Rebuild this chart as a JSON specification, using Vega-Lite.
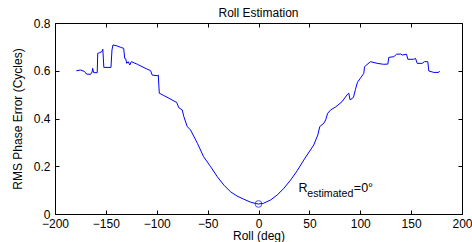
{
  "$schema": "https://vega.github.io/schema/vega-lite/v6.json",
  "autosize": {"type": "none"},
  "width": 407,
  "height": 191,
  "padding": {"left": 55, "top": 23, "right": 10, "bottom": 28},
  "background": "white",
  "title": {"text": "Roll Estimation", "font": "Liberation Sans", "fontSize": 12, "fontWeight": "normal", "color": "black", "baseline": "alphabetic", "offset": 6, "dy": 18, "anchor": "middle"},
  "config": {
    "view": {"stroke": "black", "strokeWidth": 1},
    "axis": {
      "grid": false, "domainColor": "black", "tickColor": "black", "labelColor": "black", "titleColor": "black",
      "labelFont": "Liberation Sans", "titleFont": "Liberation Sans", "labelFontSize": 12, "titleFontSize": 12,
      "titleFontWeight": "normal", "tickSize": -4, "labelFlush": false, "labelOverlap": false
    }
  },
  "datasets": {
    "curve": [
      {"roll": -179, "err": 0.600}, {"roll": -175, "err": 0.603}, {"roll": -171, "err": 0.597},
      {"roll": -169, "err": 0.586}, {"roll": -165, "err": 0.585}, {"roll": -163.5, "err": 0.595},
      {"roll": -163, "err": 0.610}, {"roll": -162, "err": 0.592}, {"roll": -158.5, "err": 0.592},
      {"roll": -158, "err": 0.673}, {"roll": -156, "err": 0.676}, {"roll": -154, "err": 0.680},
      {"roll": -153, "err": 0.690}, {"roll": -152, "err": 0.614}, {"roll": -145, "err": 0.614},
      {"roll": -144, "err": 0.687}, {"roll": -143, "err": 0.708}, {"roll": -139, "err": 0.704},
      {"roll": -135.5, "err": 0.698}, {"roll": -132.5, "err": 0.694}, {"roll": -131.5, "err": 0.652},
      {"roll": -130.5, "err": 0.650}, {"roll": -129.5, "err": 0.631}, {"roll": -128, "err": 0.638},
      {"roll": -126.5, "err": 0.624}, {"roll": -125, "err": 0.638}, {"roll": -119, "err": 0.627},
      {"roll": -112.5, "err": 0.613}, {"roll": -106, "err": 0.600}, {"roll": -104.5, "err": 0.582},
      {"roll": -99.5, "err": 0.579}, {"roll": -98.5, "err": 0.582}, {"roll": -97.5, "err": 0.506},
      {"roll": -93, "err": 0.496}, {"roll": -88, "err": 0.485}, {"roll": -83, "err": 0.473},
      {"roll": -80.5, "err": 0.468}, {"roll": -78.3, "err": 0.445}, {"roll": -75, "err": 0.436},
      {"roll": -73.4, "err": 0.408}, {"roll": -70, "err": 0.366}, {"roll": -66.8, "err": 0.352},
      {"roll": -60, "err": 0.296}, {"roll": -54, "err": 0.240}, {"roll": -47, "err": 0.198},
      {"roll": -40.5, "err": 0.156}, {"roll": -34, "err": 0.121}, {"roll": -27.5, "err": 0.093},
      {"roll": -21, "err": 0.075}, {"roll": -14.5, "err": 0.062}, {"roll": -8, "err": 0.050},
      {"roll": -3, "err": 0.044}, {"roll": 0, "err": 0.042}, {"roll": 5, "err": 0.045},
      {"roll": 12, "err": 0.059}, {"roll": 18.5, "err": 0.080}, {"roll": 25, "err": 0.108},
      {"roll": 31.5, "err": 0.142}, {"roll": 38, "err": 0.181}, {"roll": 44.5, "err": 0.226},
      {"roll": 51, "err": 0.268}, {"roll": 54.3, "err": 0.289}, {"roll": 58.3, "err": 0.331},
      {"roll": 60.2, "err": 0.366}, {"roll": 64.2, "err": 0.380}, {"roll": 66, "err": 0.394},
      {"roll": 68, "err": 0.422}, {"roll": 71, "err": 0.436}, {"roll": 76, "err": 0.449},
      {"roll": 82, "err": 0.470}, {"roll": 87.2, "err": 0.500}, {"roll": 88.7, "err": 0.506},
      {"roll": 90, "err": 0.478}, {"roll": 93.3, "err": 0.488}, {"roll": 95.3, "err": 0.522},
      {"roll": 97.3, "err": 0.552}, {"roll": 100, "err": 0.568}, {"roll": 103.5, "err": 0.589},
      {"roll": 104.2, "err": 0.617}, {"roll": 110, "err": 0.638}, {"roll": 116.7, "err": 0.631},
      {"roll": 123, "err": 0.627}, {"roll": 127.1, "err": 0.628}, {"roll": 128.1, "err": 0.656},
      {"roll": 133, "err": 0.659}, {"roll": 135.6, "err": 0.669}, {"roll": 139.6, "err": 0.670},
      {"roll": 141.2, "err": 0.666}, {"roll": 145.5, "err": 0.669}, {"roll": 146.8, "err": 0.648},
      {"roll": 152.6, "err": 0.648}, {"roll": 154.3, "err": 0.652}, {"roll": 156, "err": 0.631},
      {"roll": 160.9, "err": 0.631}, {"roll": 163.1, "err": 0.638}, {"roll": 166.4, "err": 0.638},
      {"roll": 167.4, "err": 0.599}, {"roll": 172.3, "err": 0.593}, {"roll": 177, "err": 0.593},
      {"roll": 178, "err": 0.599}
    ],
    "marker": [{"roll": 0, "err": 0.042}],
    "labelMain": [{"roll": 39.3, "err": 0.092, "txt": "R"}, {"roll": 93.7, "err": 0.092, "txt": "=0°"}],
    "labelSub": [{"roll": 48, "err": 0.092, "txt": "estimated"}]
  },
  "layer": [
    {
      "data": {"name": "curve"},
      "mark": {"type": "line", "color": "#0000FF", "strokeWidth": 1, "interpolate": "linear"},
      "encoding": {
        "x": {"field": "roll", "type": "quantitative", "scale": {"domain": [-200, 200], "nice": false, "zero": false},
              "axis": {"orient": "bottom", "values": [-200, -150, -100, -50, 0, 50, 100, 150, 200], "title": "Roll (deg)", "labelPadding": 8, "titleY": 25, "titleBaseline": "alphabetic", "titlePadding": 0}},
        "y": {"field": "err", "type": "quantitative", "scale": {"domain": [0, 0.8], "nice": false},
              "axis": {"orient": "left", "values": [0, 0.2, 0.4, 0.6, 0.8], "format": "~g", "title": "RMS Phase Error (Cycles)", "labelPadding": 9, "titleX": -34, "titleBaseline": "alphabetic"}}
      }
    },
    {
      "data": {"name": "marker"},
      "mark": {"type": "point", "shape": "circle", "filled": false, "color": "#0000FF", "strokeWidth": 1, "size": 45},
      "encoding": {
        "x": {"field": "roll", "type": "quantitative", "axis": {"orient": "top", "values": [-200, -150, -100, -50, 0, 50, 100, 150, 200], "labels": false, "title": null, "domain": false}},
        "y": {"field": "err", "type": "quantitative", "axis": {"orient": "right", "values": [0, 0.2, 0.4, 0.6, 0.8], "labels": false, "title": null, "domain": false}}
      }
    },
    {
      "data": {"name": "labelMain"},
      "mark": {"type": "text", "align": "left", "baseline": "alphabetic", "font": "Liberation Sans", "fontSize": 12.5, "color": "black"},
      "encoding": {
        "x": {"field": "roll", "type": "quantitative", "axis": null},
        "y": {"field": "err", "type": "quantitative", "axis": null},
        "text": {"field": "txt"}
      }
    },
    {
      "data": {"name": "labelSub"},
      "mark": {"type": "text", "align": "left", "baseline": "alphabetic", "font": "Liberation Sans", "fontSize": 10.6, "color": "black", "dy": 5},
      "encoding": {
        "x": {"field": "roll", "type": "quantitative", "axis": null},
        "y": {"field": "err", "type": "quantitative", "axis": null},
        "text": {"field": "txt"}
      }
    }
  ],
  "resolve": {"axis": {"x": "independent", "y": "independent"}}
}
